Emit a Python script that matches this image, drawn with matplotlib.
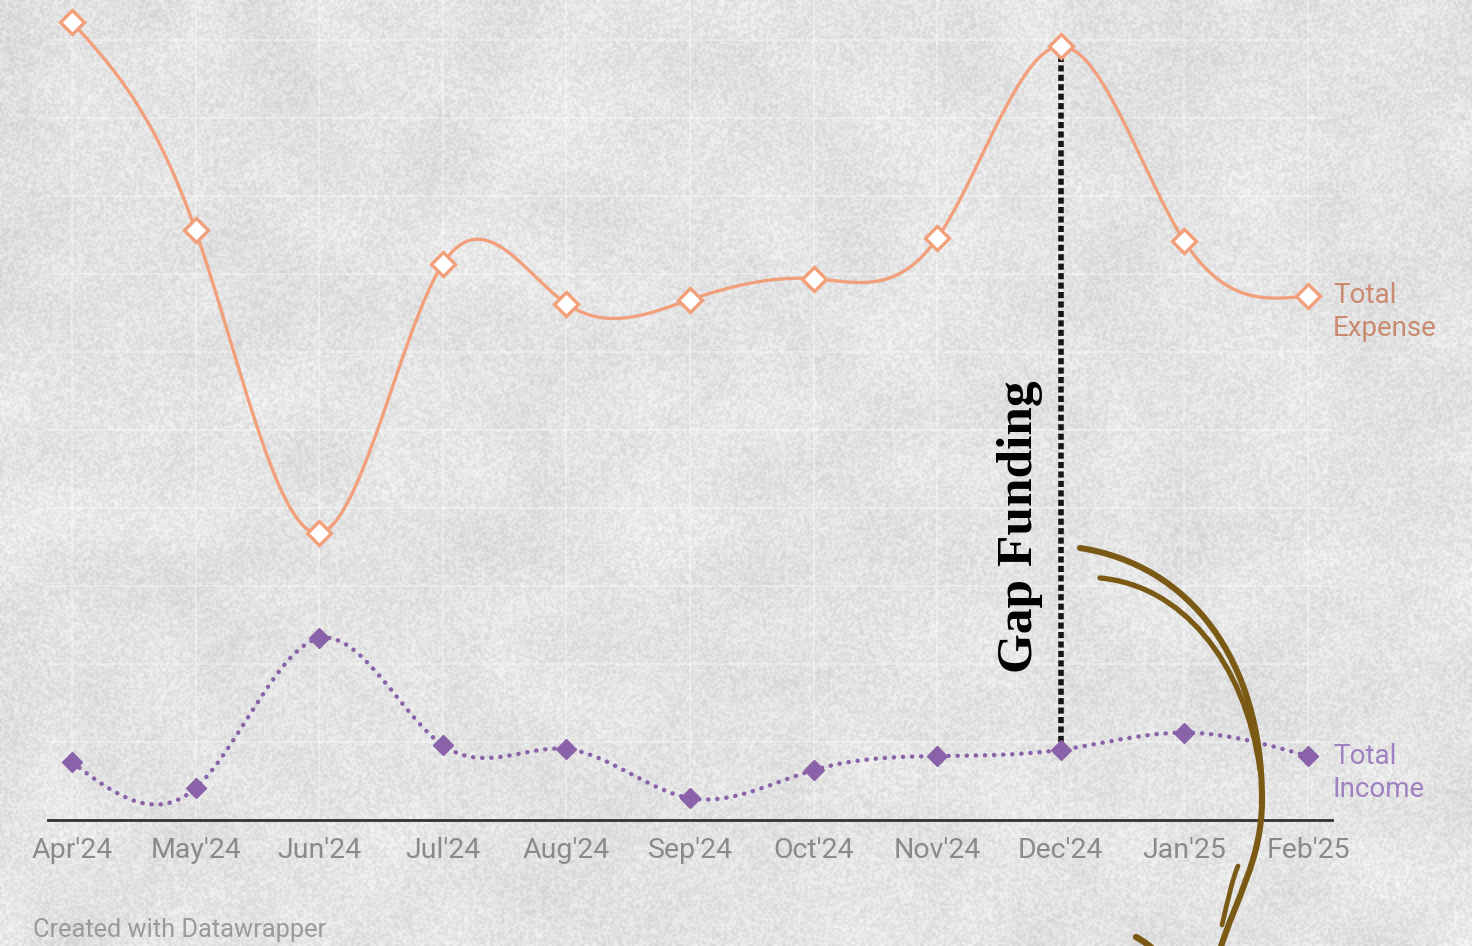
import numpy as np
import matplotlib
matplotlib.use("Agg")
import matplotlib.pyplot as plt
from matplotlib.path import Path
from matplotlib.patches import PathPatch

# ---- data ----
months = ["Apr'24", "May'24", "Jun'24", "Jul'24", "Aug'24", "Sep'24",
          "Oct'24", "Nov'24", "Dec'24", "Jan'25", "Feb'25"]
total_expense = [102.3, 75.6, 36.8, 71.3, 66.2, 66.7, 69.4, 74.6, 99.2, 74.2, 67.2]
total_income = [7.4, 4.1, 23.3, 9.6, 9.1, 2.8, 6.4, 8.2, 9.0, 11.2, 8.2]
gridlines = [10, 20, 30, 40, 50, 60, 70, 80, 90, 100]
highlight_month = "Dec'24"

W, H = 1472, 946
fig = plt.figure(figsize=(W / 100, H / 100), dpi=100)

# pixel helpers for layout
X0, DX = 72.0, 123.6
Y0, DY = 820.0, 7.8
ax = fig.add_axes([0, 0, 1, 1])
ax.set_xlim((0 - X0) / DX, (W - X0) / DX)
ax.set_ylim((Y0 - H) / DY, Y0 / DY)
ax.axis("off")

# ---- textured background ----
rng = np.random.default_rng(11)
low = rng.random((26, 40))
ext = [*ax.get_xlim(), *ax.get_ylim()]
ax.imshow(low, cmap="gray", vmin=-5.5, vmax=1.25, interpolation="bicubic",
          extent=ext, aspect="auto", zorder=0)
fine = rng.random((473, 736))
rgba = np.zeros((473, 736, 4))
rgba[..., :3] = (0.80 + 0.20 * fine)[..., None]
rgba[..., 3] = 0.55
ax.imshow(rgba, interpolation="bilinear", extent=ext, aspect="auto", zorder=0.5)

x = np.arange(len(months))
xl, xr = (48 - X0) / DX, (1332 - X0) / DX

# faint grid
for g in gridlines:
    ax.plot([xl, xr], [g, g], color="white", lw=1.3, alpha=0.35, zorder=1)
for xi in x:
    ax.plot([xi, xi], [0, Y0 / DY], color="white", lw=1.3, alpha=0.35, zorder=1)


def natural_spline(xs, ys, n=40):
    ys = np.asarray(ys, float)
    m = len(ys)
    A = np.zeros((m, m))
    b = np.zeros(m)
    A[0, 0] = A[-1, -1] = 1
    for i in range(1, m - 1):
        A[i, i - 1], A[i, i], A[i, i + 1] = 1, 4, 1
        b[i] = 6 * (ys[i + 1] - 2 * ys[i] + ys[i - 1])
    M = np.linalg.solve(A, b)
    xo, yo = [], []
    for i in range(m - 1):
        t = np.linspace(0, 1, n, endpoint=(i == m - 2))
        yy = ((1 - t) * ys[i] + t * ys[i + 1]
              + ((1 - t) ** 3 - (1 - t)) * M[i] / 6 + (t ** 3 - t) * M[i + 1] / 6)
        xo.append(xs[i] + t)
        yo.append(yy)
    return np.concatenate(xo), np.concatenate(yo)


orange = "#f2a07c"
purple = "#8a62aa"

sx, sy = natural_spline(x, total_expense)
ax.plot(sx, sy, color=orange, lw=2.4, zorder=3, solid_capstyle="round")
ax.plot(x, total_expense, linestyle="none", marker="D", ms=12,
        mfc="white", mec=orange, mew=2.4, zorder=4)

ix, iy = natural_spline(x, total_income)
ax.plot(ix, iy, color=purple, lw=3.2, linestyle=(0, (0.05, 2.0)),
        dash_capstyle="round", zorder=3)
ax.plot(x, total_income, linestyle="none", marker="D", ms=10.5,
        mfc=purple, mec=purple, zorder=4)

# baseline
ax.plot([xl, xr], [0, 0], color="#333333", lw=2.0, zorder=3)

# tick labels
for xi, lab in zip(x, months):
    ax.text(xi, -3.9, lab, ha="center", va="center", fontsize=20.5,
            family="Roboto", color="#8a8a8a", zorder=5)

ax.text((33 - X0) / DX, (Y0 - 930) / DY, "Created with Datawrapper",
        ha="left", va="center", fontsize=18.3, family="Roboto",
        color="#9a9a9a", zorder=5)

# series labels
lx = x[-1] + (1333 - 1308) / DX
line_gap = 33 / DY
for txt, v, col in [("Total", total_expense[-1], "#c98a70"),
                    ("Expense", total_expense[-1] - line_gap, "#c98a70"),
                    ("Total", total_income[-1], "#9f80c0"),
                    ("Income", total_income[-1] - line_gap, "#9f80c0")]:
    ax.text(lx, v, txt, ha="left", va="center", fontsize=20,
            family="Roboto", color=col, zorder=5)

# highlight line
hi = months.index(highlight_month)
ax.plot([hi, hi], [total_income[hi] + 1.0, total_expense[hi] - 1.2],
        color="#151515", lw=4.0, linestyle=(0, (1.1, 0.6)), zorder=2.5)
ax.text(hi - 0.33, (Y0 - 527) / DY, "Gap Funding", rotation=90,
        ha="center", va="center", fontsize=37, family="Liberation Serif",
        fontweight="bold", color="black", zorder=5)

# hand-drawn arrow (figure pixel coordinates)
brown = "#7b5a16"


def px(pts):
    return [(p[0] / W, 1 - p[1] / H) for p in pts]


strokes = [
    ([(1080, 548), (1190, 565), (1262, 660), (1262, 800)],
     [Path.MOVETO, Path.CURVE4, Path.CURVE4, Path.CURVE4], 4.4),
    ([(1262, 800), (1262, 860), (1235, 900), (1220, 950)],
     [Path.MOVETO, Path.CURVE4, Path.CURVE4, Path.CURVE4], 4.4),
    ([(1100, 578), (1180, 585), (1245, 660), (1260, 770)],
     [Path.MOVETO, Path.CURVE4, Path.CURVE4, Path.CURVE4], 3.8),
    ([(1238, 866), (1232, 880), (1228, 900), (1222, 925)],
     [Path.MOVETO, Path.CURVE4, Path.CURVE4, Path.CURVE4], 3.4),
    ([(1136, 937), (1145, 942), (1150, 946), (1156, 952)],
     [Path.MOVETO, Path.CURVE4, Path.CURVE4, Path.CURVE4], 4.6),
]
for pts, codes, lw in strokes:
    patch = PathPatch(Path(px(pts), codes), transform=fig.transFigure,
                      fill=False, edgecolor=brown, lw=lw, capstyle="round",
                      zorder=6)
    fig.patches.append(patch)

fig.savefig("out.png", dpi=100)
